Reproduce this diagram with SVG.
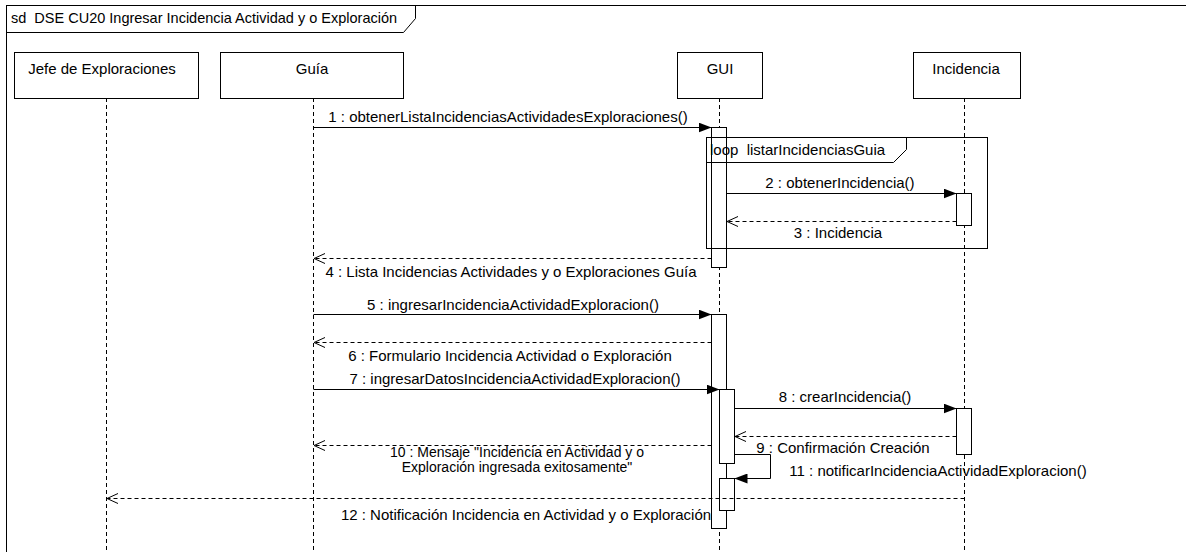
<svg xmlns="http://www.w3.org/2000/svg" width="1186" height="552" viewBox="0 0 1186 552">
<style>
text{font-family:"Liberation Sans",Arial,sans-serif;font-size:15px;fill:#000;white-space:pre}
.c{text-anchor:middle}
.t{font-size:14.5px}
.s{font-size:14px}
.box{fill:#fff;stroke:#000;stroke-width:1}
.act{fill:#fff;stroke:#000;stroke-width:1}
.life{stroke:#000;stroke-width:1;stroke-dasharray:4 3;fill:none}
.msg{stroke:#000;stroke-width:1;fill:none}
.ret{stroke:#000;stroke-width:1;stroke-dasharray:4 3;fill:none}
.frm{fill:none;stroke:#000;stroke-width:1}
</style>
<defs>
<marker id="fill" markerWidth="13" markerHeight="10" refX="13" refY="5" orient="auto" markerUnits="userSpaceOnUse"><path d="M0,0 L13,5 L0,10 Z" fill="#000"/></marker>
<marker id="open" markerWidth="12" markerHeight="12" refX="11" refY="6" orient="auto" markerUnits="userSpaceOnUse"><path d="M0,1 L11,6 L0,11" fill="none" stroke="#000" stroke-width="1"/></marker>
</defs>
<rect width="1186" height="552" fill="#fff"/>
<g id="frame">
<rect class="frm" x="6.5" y="5.5" width="1190" height="560"/>
<path class="frm" d="M6.5,32.5 H403.5 L415.5,18.5 V5.5"/>
<text class="t" x="11" y="23" xml:space="preserve">sd  DSE CU20 Ingresar Incidencia Actividad y o Exploración</text>
</g>
<g id="lifelines">
<path class="life" d="M106.5,98 V552 M313.5,98 V552 M719.5,98 V552 M964.5,98 V552"/>
</g>
<g id="jefe">
<rect class="box" x="14.5" y="52.5" width="184" height="46"/>
<text class="c" x="102" y="74">Jefe de Exploraciones</text>
</g>
<g id="guia">
<rect class="box" x="220.5" y="52.5" width="183" height="46"/>
<text class="c" x="312" y="74">Guía</text>
</g>
<g id="gui">
<rect class="box" x="677.5" y="52.5" width="85" height="46"/>
<text class="c" x="720" y="74">GUI</text>
<rect class="act" x="711.5" y="127.5" width="15" height="140"/>
<rect class="act" x="711.5" y="314.5" width="15" height="214"/>
<rect class="act" x="719.5" y="389.5" width="15" height="74"/>
<rect class="act" x="719.5" y="478.5" width="15" height="32"/>
</g>
<g id="incidencia">
<rect class="box" x="913.5" y="52.5" width="107" height="46"/>
<text class="c" x="966" y="74">Incidencia</text>
<rect class="act" x="956.5" y="193.5" width="15" height="32"/>
<rect class="act" x="956.5" y="408.5" width="15" height="46"/>
</g>
<g id="loop">
<rect class="frm" x="706.5" y="137.5" width="281" height="111"/>
<path class="frm" d="M706.5,162.5 H893.5 L906.5,149.5 V137.5"/>
<text x="710" y="155" xml:space="preserve">loop  listarIncidenciasGuia</text>
</g>
<g id="connectors">
<path class="msg" d="M313.5,127.5 H711.5" marker-end="url(#fill)"/>
<text class="c" x="508" y="122">1 : obtenerListaIncidenciasActividadesExploraciones()</text>
<path class="msg" d="M726.5,193.5 H956.5" marker-end="url(#fill)"/>
<text class="c" x="840" y="188">2 : obtenerIncidencia()</text>
<path class="ret" d="M956.5,221.5 H727" marker-end="url(#open)"/>
<text class="c" x="838" y="238">3 : Incidencia</text>
<path class="ret" d="M711.5,258.5 H314" marker-end="url(#open)"/>
<text class="c" x="511" y="277">4 : Lista Incidencias Actividades y o Exploraciones Guía</text>
<path class="msg" d="M313.5,314.5 H711.5" marker-end="url(#fill)"/>
<text class="c" x="513" y="310">5 : ingresarIncidenciaActividadExploracion()</text>
<path class="ret" d="M711.5,342.5 H314" marker-end="url(#open)"/>
<text class="c" x="510" y="361">6 : Formulario Incidencia Actividad o Exploración</text>
<path class="msg" d="M313.5,389.5 H719.5" marker-end="url(#fill)"/>
<text class="c" x="515" y="384">7 : ingresarDatosIncidenciaActividadExploracion()</text>
<path class="msg" d="M734.5,408.5 H956.5" marker-end="url(#fill)"/>
<text class="c" x="845" y="402">8 : crearIncidencia()</text>
<path class="ret" d="M956.5,436.5 H735" marker-end="url(#open)"/>
<text class="c" x="843" y="453">9 : Confirmación Creación</text>
<path class="ret" d="M711.5,445.5 H314" marker-end="url(#open)"/>
<text class="c s" x="517" y="457">10 : Mensaje "Incidencia en Actividad y o</text>
<text class="c s" x="517" y="472">Exploración ingresada exitosamente"</text>
<path class="msg" d="M734.5,454.5 H770.5 V478.5 H734.5" marker-end="url(#fill)"/>
<text class="c" x="938" y="476">11 : notificarIncidenciaActividadExploracion()</text>
<path class="ret" d="M964.5,498.5 H107" marker-end="url(#open)"/>
<text class="c" x="526" y="520">12 : Notificación Incidencia en Actividad y o Exploración</text>
</g>
</svg>
